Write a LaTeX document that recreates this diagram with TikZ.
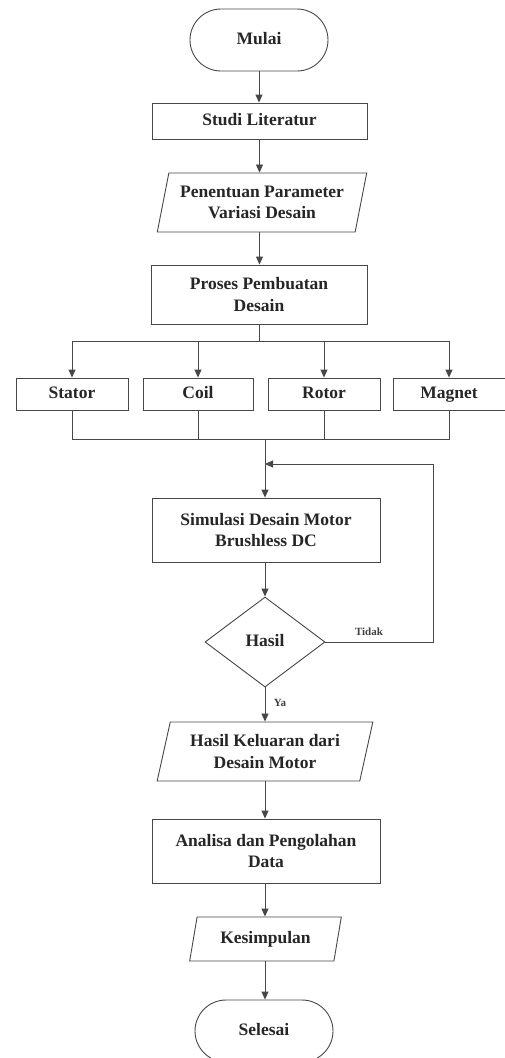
\documentclass[tikz,border=0pt]{standalone}
\usepackage{fontspec}
\setmainfont{Liberation Serif}
\usetikzlibrary{shapes.geometric,shapes.misc,arrows.meta}
\begin{document}
\begin{tikzpicture}[x=1pt,y=-1pt,
  base/.style={draw=black!72, line width=0.9pt, font=\fontsize{17.5}{21.5}\selectfont\bfseries, align=center, inner sep=0pt, text=black!85},
  one/.style={text height=12pt, text depth=4pt},
  term/.style={base, one, rounded rectangle},
  proc/.style={base, rectangle},
  io/.style={base, trapezium, trapezium stretches=true, trapezium left angle=73, trapezium right angle=107},
  dec/.style={base, one, diamond, aspect=1.33},
  lbl/.style={font=\fontsize{11}{13}\selectfont\bfseries, inner sep=0pt, text=black!75},
  ln/.style={draw=black!72, line width=0.9pt},
  arr/.style={ln, -{Triangle[length=8pt,width=7pt]}}
]
\useasboundingbox[fill=white] (0,0) rectangle (504,1058);

\node[term, minimum width=138pt, minimum height=62pt] (mulai) at (259,40) {Mulai};
\node[proc, one, minimum width=215pt, minimum height=36pt] (studi) at (259.5,121) {Studi Literatur};
\node[io, minimum width=210pt, minimum height=59pt] (param) at (262,202.5) {Penentuan Parameter\\Variasi Desain};
\node[proc, minimum width=216pt, minimum height=59pt] (proses) at (259,294.5) {Proses Pembuatan\\Desain};

\node[proc, one, minimum width=112pt, minimum height=32pt] (stator) at (72,394) {Stator};
\node[proc, one, minimum width=110pt, minimum height=32pt] (coil) at (198,394) {Coil};
\node[proc, one, minimum width=112pt, minimum height=32pt] (rotor) at (324,394) {Rotor};
\node[proc, one, minimum width=112pt, minimum height=32pt] (magnet) at (449,394) {Magnet};

\node[proc, minimum width=228pt, minimum height=64pt] (sim) at (266,530) {Simulasi Desain Motor\\Brushless DC};
\node[dec, minimum width=120pt, minimum height=90pt] (hasil) at (265,642) {Hasil};
\node[io, minimum width=216pt, minimum height=59pt] (keluar) at (265,751.5) {Hasil Keluaran dari\\Desain Motor};
\node[proc, minimum width=228pt, minimum height=64pt] (analisa) at (266,851) {Analisa dan Pengolahan\\Data};
\node[io, one, minimum width=153pt, minimum height=44pt] (kesim) at (265.5,939) {Kesimpulan};
\node[term, minimum width=138pt, minimum height=62pt] (selesai) at (264,1031) {Selesai};

\node[lbl] (tidak) at (369,632) {Tidak};
\node[lbl] (ya) at (280,703) {Ya};

\coordinate (br) at (259,341);
\coordinate (jn) at (265,439);
\coordinate (fb) at (433,464);
\coordinate (fbend) at (265,464);

\draw[arr] (mulai.south) -- (mulai.south |- studi.north);
\draw[arr] (studi.south) -- (studi.south |- param.north);
\draw[arr] (studi.south |- param.south) -- (studi.south |- proses.north);
\draw[ln] (proses.south) -- (br);
\foreach \n in {stator,coil,rotor,magnet}{
  \draw[arr] (br) -| (\n.north);
  \draw[ln] (\n.south) |- (jn);
}
\draw[arr] (jn) -- (jn |- sim.north);
\draw[arr] (hasil.east) -| (fb) -- (fbend);
\draw[arr] (hasil.north |- sim.south) -- (hasil.north);
\draw[arr] (hasil.south) -- (hasil.south |- keluar.north);
\draw[arr] (hasil.south |- keluar.south) -- (hasil.south |- analisa.north);
\draw[arr] (hasil.south |- analisa.south) -- (hasil.south |- kesim.north);
\draw[arr] (hasil.south |- kesim.south) -- (hasil.south |- selesai.north);
\end{tikzpicture}
\end{document}
